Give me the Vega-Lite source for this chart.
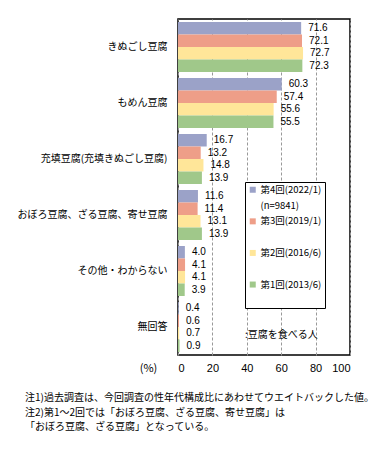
{
  "$schema": "https://vega.github.io/schema/vega-lite/v6.json",
  "width": 172,
  "height": 336,
  "autosize": {"type": "none"},
  "padding": {"left": 178, "top": 19, "right": 36, "bottom": 95},
  "background": "white",
  "config": {
    "font": "Noto Sans CJK JP",
    "view": {"stroke": "black", "strokeWidth": 1.5},
    "text": {"font": "Noto Sans CJK JP"},
    "axisX": {
      "values": [0, 20, 40, 60, 80, 100],
      "labelOverlap": false,
      "grid": true,
      "gridDash": [3, 2],
      "gridColor": "#999999",
      "domain": false,
      "ticks": false,
      "labelFontSize": 11,
      "labelPadding": 7,
      "labelColor": "black",
      "labelFont": "Liberation Sans",
      "titleX": -30,
      "titleY": 13,
      "titleBaseline": "middle",
      "titleAlign": "center",
      "titleFontSize": 11,
      "titleFontWeight": "normal",
      "titleColor": "black",
      "titleFont": "Noto Sans CJK JP"
    }
  },
  "title": {
    "text": ["注1)過去調査は、今回調査の性年代構成比にあわせてウエイトバックした値。", "注2)第1～2回では「おぼろ豆腐、ざる豆腐、寄せ豆腐」は", "「おぼろ豆腐、ざる豆腐」となっている。"],
    "orient": "bottom",
    "anchor": "start",
    "frame": "group",
    "dx": -153,
    "offset": 20,
    "fontSize": 10,
    "fontWeight": "normal",
    "lineHeight": 14.5,
    "color": "black",
    "font": "Noto Sans CJK JP"
  },
  "datasets": {
    "tofu": [
      {"cat": "きぬごし豆腐", "series": "第4回(2022/1)", "value": 71.6},
      {"cat": "きぬごし豆腐", "series": "第3回(2019/1)", "value": 72.1},
      {"cat": "きぬごし豆腐", "series": "第2回(2016/6)", "value": 72.7},
      {"cat": "きぬごし豆腐", "series": "第1回(2013/6)", "value": 72.3},
      {"cat": "もめん豆腐", "series": "第4回(2022/1)", "value": 60.3},
      {"cat": "もめん豆腐", "series": "第3回(2019/1)", "value": 57.4},
      {"cat": "もめん豆腐", "series": "第2回(2016/6)", "value": 55.6},
      {"cat": "もめん豆腐", "series": "第1回(2013/6)", "value": 55.5},
      {"cat": "充填豆腐(充填きぬごし豆腐)", "series": "第4回(2022/1)", "value": 16.7},
      {"cat": "充填豆腐(充填きぬごし豆腐)", "series": "第3回(2019/1)", "value": 13.2},
      {"cat": "充填豆腐(充填きぬごし豆腐)", "series": "第2回(2016/6)", "value": 14.8},
      {"cat": "充填豆腐(充填きぬごし豆腐)", "series": "第1回(2013/6)", "value": 13.9},
      {"cat": "おぼろ豆腐、ざる豆腐、寄せ豆腐", "series": "第4回(2022/1)", "value": 11.6},
      {"cat": "おぼろ豆腐、ざる豆腐、寄せ豆腐", "series": "第3回(2019/1)", "value": 11.4},
      {"cat": "おぼろ豆腐、ざる豆腐、寄せ豆腐", "series": "第2回(2016/6)", "value": 13.1},
      {"cat": "おぼろ豆腐、ざる豆腐、寄せ豆腐", "series": "第1回(2013/6)", "value": 13.9},
      {"cat": "その他・わからない", "series": "第4回(2022/1)", "value": 4.0},
      {"cat": "その他・わからない", "series": "第3回(2019/1)", "value": 4.1},
      {"cat": "その他・わからない", "series": "第2回(2016/6)", "value": 4.1},
      {"cat": "その他・わからない", "series": "第1回(2013/6)", "value": 3.9},
      {"cat": "無回答", "series": "第4回(2022/1)", "value": 0.4},
      {"cat": "無回答", "series": "第3回(2019/1)", "value": 0.6},
      {"cat": "無回答", "series": "第2回(2016/6)", "value": 0.7},
      {"cat": "無回答", "series": "第1回(2013/6)", "value": 0.9}
    ],
    "note": [{"text": ":豆腐を食べる人"}]
  },
  "layer": [
    {
      "data": {"name": "tofu"},
      "mark": {"type": "bar"},
      "encoding": {
        "y": {
          "field": "cat",
          "type": "nominal",
          "sort": ["きぬごし豆腐", "もめん豆腐", "充填豆腐(充填きぬごし豆腐)", "おぼろ豆腐、ざる豆腐、寄せ豆腐", "その他・わからない", "無回答"],
          "scale": {"paddingInner": 0.107, "paddingOuter": 0.054},
          "axis": {
            "title": null,
            "domain": false,
            "ticks": false,
            "labelFontSize": 10,
            "labelPadding": 11,
            "labelColor": "black",
            "labelLimit": 250,
            "labelFont": "Noto Sans CJK JP"
          }
        },
        "yOffset": {
          "field": "series",
          "type": "nominal",
          "sort": ["第4回(2022/1)", "第3回(2019/1)", "第2回(2016/6)", "第1回(2013/6)"],
          "scale": {"paddingInner": 0, "paddingOuter": 0}
        },
        "x": {
          "field": "value",
          "type": "quantitative",
          "scale": {"domain": [0, 100], "nice": false},
          "title": "(%)"
        },
        "color": {
          "field": "series",
          "type": "nominal",
          "scale": {
            "domain": ["第4回(2022/1)", "(n=9841)", "第3回(2019/1)", " ", "第2回(2016/6)", "  ", "第1回(2013/6)", "   "],
            "range": ["#9BA2C8", "#FFFFFF", "#EE9E88", "#FFFFFF", "#FFE699", "#FFFFFF", "#A0C88A", "#FFFFFF"]
          },
          "legend": {
            "title": null,
            "orient": "none",
            "legendX": 67,
            "legendY": 163,
            "strokeColor": "black",
            "fillColor": "white",
            "padding": 3,
            "symbolType": "square",
            "symbolSize": 36,
            "symbolStrokeWidth": 0,
            "labelFontSize": 9.5,
            "labelColor": "black",
            "labelFont": "Noto Sans CJK JP",
            "rowPadding": 4.8,
            "labelOffset": 3
          }
        }
      }
    },
    {
      "data": {"name": "tofu"},
      "mark": {"type": "text", "align": "left", "baseline": "middle", "dx": 7, "fontSize": 10, "color": "black", "font": "Liberation Sans"},
      "encoding": {
        "y": {"field": "cat", "type": "nominal", "sort": ["きぬごし豆腐", "もめん豆腐", "充填豆腐(充填きぬごし豆腐)", "おぼろ豆腐、ざる豆腐、寄せ豆腐", "その他・わからない", "無回答"]},
        "yOffset": {"field": "series", "type": "nominal", "sort": ["第4回(2022/1)", "第3回(2019/1)", "第2回(2016/6)", "第1回(2013/6)"]},
        "x": {"field": "value", "type": "quantitative", "title": "(%)"},
        "text": {"field": "value", "type": "quantitative", "format": ".1f"}
      }
    },
    {
      "data": {"name": "note"},
      "mark": {"type": "text", "align": "left", "baseline": "middle", "dy": 8, "fontSize": 10, "color": "black"},
      "encoding": {
        "x": {"datum": 39, "title": "(%)"},
        "y": {"datum": "無回答"},
        "text": {"field": "text", "type": "nominal"}
      }
    }
  ]
}
